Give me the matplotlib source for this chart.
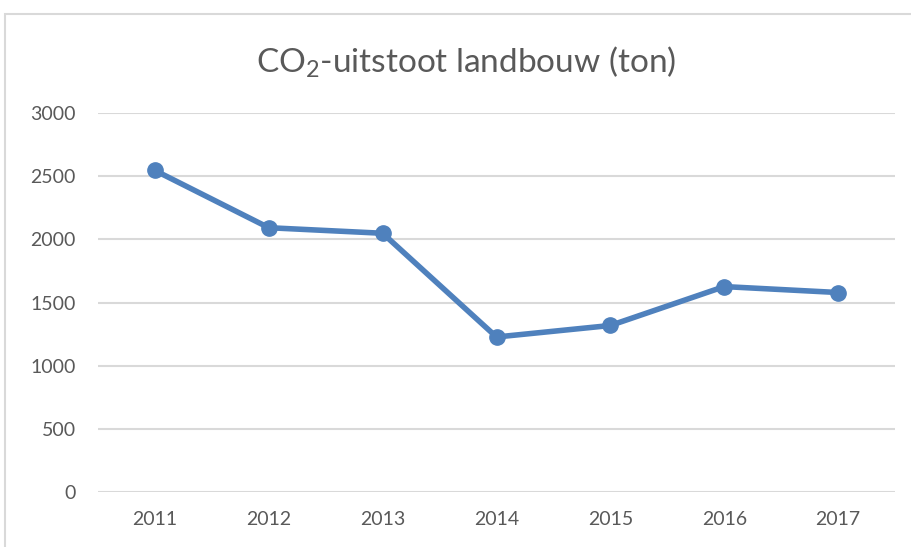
import matplotlib.pyplot as plt
from matplotlib.patches import Rectangle

# data
years = ['2011', '2012', '2013', '2014', '2015', '2016', '2017']
uitstoot = [2545, 2092, 2048, 1227, 1318, 1626, 1579]
yticks = [0, 500, 1000, 1500, 2000, 2500, 3000]

blue = '#4F81BD'
grey_text = '#595959'
grid_col = '#D9D9D9'

plt.rcParams['font.family'] = ['Lato', 'DejaVu Sans']
plt.rcParams['mathtext.default'] = 'regular'

fig = plt.figure(figsize=(9.11, 5.47), dpi=100)
ax = fig.add_axes([98/911, 55/547, 797/911, 379/547])

x = list(range(len(years)))
ax.plot(x, uitstoot, color=blue, lw=4, marker='o', ms=11, solid_capstyle='round', zorder=3)

ax.set_xlim(-0.5, len(years) - 0.5)
ax.set_ylim(0, 3000)
ax.set_yticks(yticks)
ax.set_xticks(x)
ax.set_xticklabels(years)
ax.grid(axis='y', color=grid_col, lw=1.5)
ax.set_axisbelow(True)
for s in ax.spines.values():
    s.set_visible(False)
ax.tick_params(length=0, labelsize=14, labelcolor=grey_text)
ax.tick_params(axis='y', pad=16)
ax.tick_params(axis='x', pad=14)

fig.text(466/911, (547-62)/547, r'CO$_2$-uitstoot landbouw (ton)', ha='center', va='center',
         fontsize=24, color=grey_text)

# chart area border, cut off at right and bottom like the reference
fig.patches.append(Rectangle((5/911, -0.05), 1.0, (547-14)/547 + 0.05, transform=fig.transFigure,
                             fill=False, edgecolor=grid_col, lw=1.5))

fig.savefig('out.png', dpi=100)
